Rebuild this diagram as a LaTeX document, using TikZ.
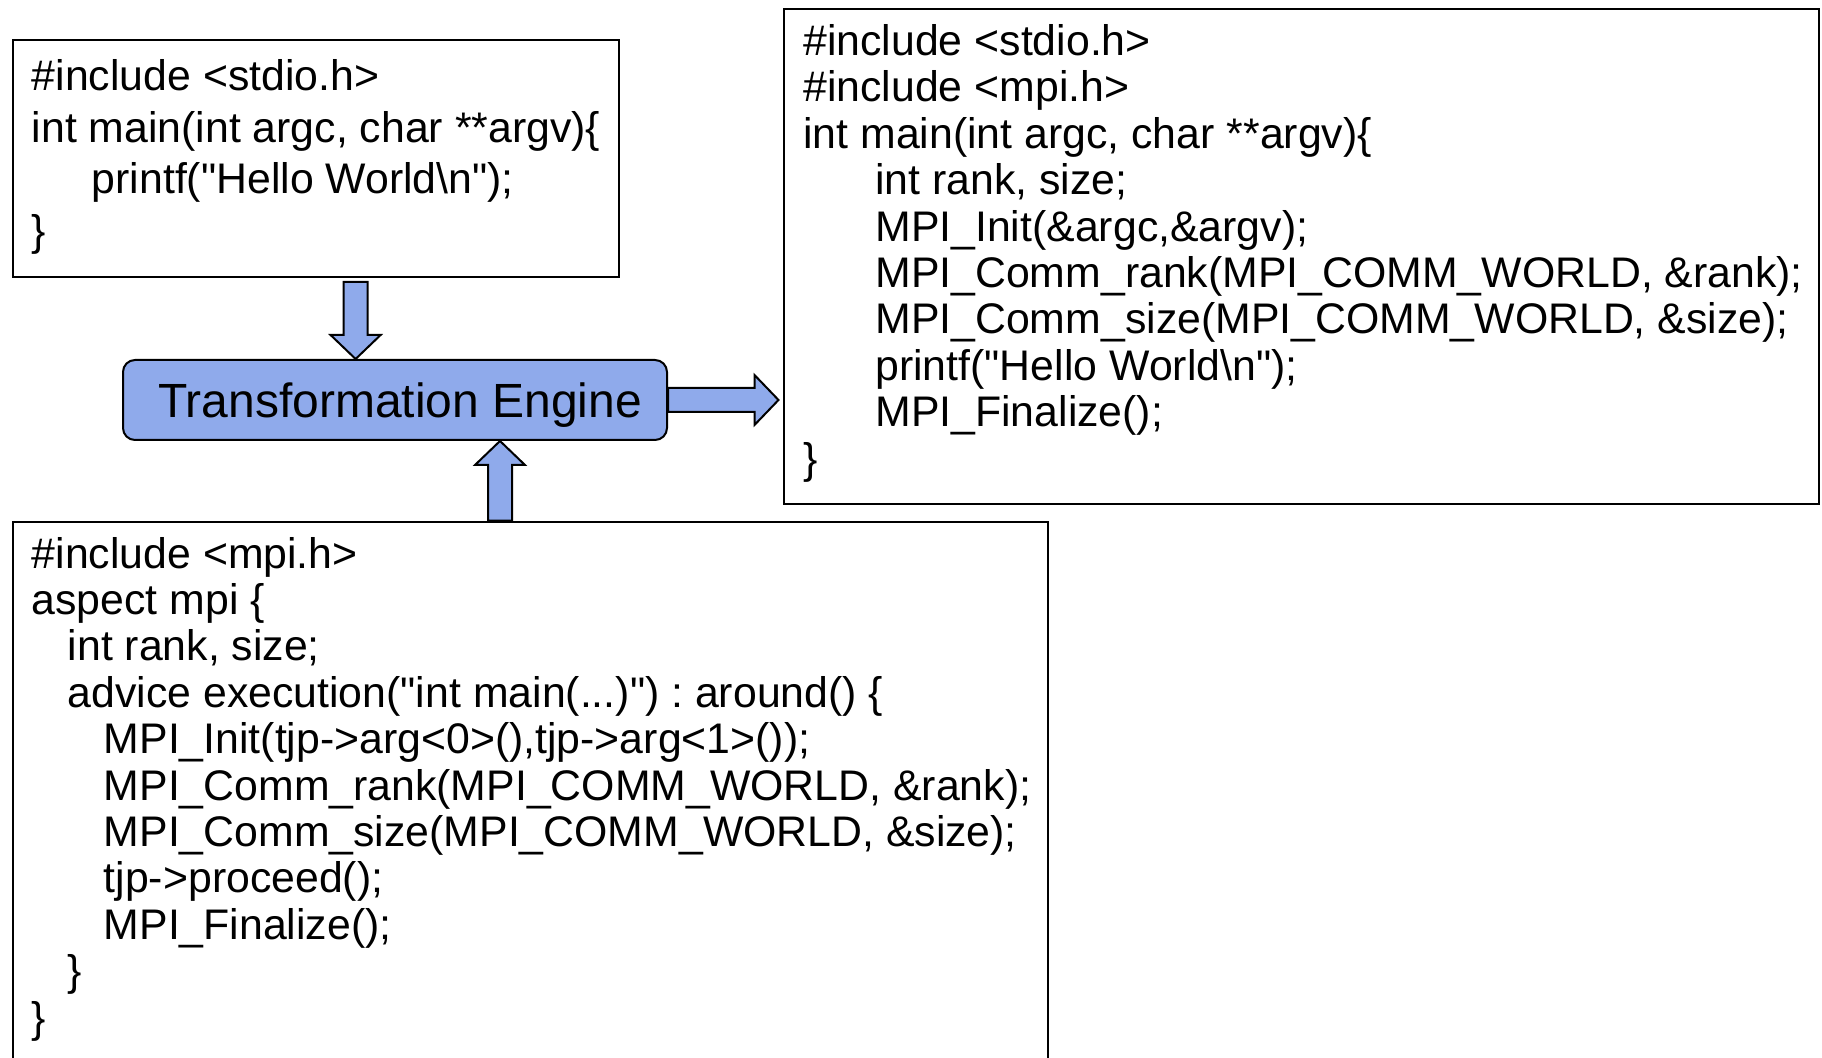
\documentclass[tikz,border=0pt]{standalone}
\usepackage{fontspec}
\setmainfont{Liberation Sans}
\usetikzlibrary{calc,positioning}
\definecolor{engblue}{RGB}{143,170,235}
\newcommand{\dq}{\textquotedbl}
\tikzset{
  codebox/.style={draw, line width=1pt, inner sep=0pt, anchor=north west},
  codetext/.style={anchor=north west, inner sep=0pt, align=left,
    font=\fontsize{21.4pt}{23.2pt}\selectfont\frenchspacing},
  engbox/.style={draw, line width=1pt, rounded corners=6pt, fill=engblue,
    minimum width=272pt, minimum height=40pt, inner sep=0pt, text depth=0pt,
    font=\fontsize{24pt}{28pt}\selectfont},
  blockarr/.style={draw, line width=1pt, fill=engblue, line join=miter},
}
% block arrow from #1 to #2 (shaft, head)
\newcommand{\blockarrow}[2]{%
  \path[blockarr] let \p1=(#1), \p2=(#2),
    \n1={atan2(\y2-\y1,\x2-\x1)}, \n2={veclen(\x2-\x1,\y2-\y1)} in
    [shift={(\p1)}, rotate=\n1]
    (0pt,-6pt) -- ({\n2-12pt},-6pt) -- ({\n2-12pt},-12.5pt)
    -- (\n2,0pt) -- ({\n2-12pt},12.5pt) -- ({\n2-12pt},6pt)
    -- (0pt,6pt) -- cycle;
}

\begin{document}
\begin{tikzpicture}[x=0.5pt, y=-0.5pt]
  \useasboundingbox (0,0) rectangle (1822,1058);
  \clip (0,0) rectangle (1822,1058);

  % Code boxes
  \node[codebox, minimum width=303.2pt, minimum height=118.5pt] (hello) at (11.6,39.5) {};
  \node[codebox, minimum width=517.5pt, minimum height=247.5pt] (hybrid) at (783,8) {};
  \node[codebox, minimum width=517.7pt, minimum height=277.2pt] (aspect) at (11.6,520.6) {};

  % Code texts
  \node[codetext, font=\fontsize{21.4pt}{25.85pt}\selectfont\frenchspacing] (hellotxt)
    at ($(hello.north west)+(19.8,19.4)$) {%
    \#include <stdio.h>\\
    int main(int argc, char **argv)\{\\
    \hspace*{30pt}printf(\dq Hello World\textbackslash n\dq);\\
    \}};
  \node[codetext] (hybridtxt) at ($(hybrid.north west)+(20,16)$) {%
    \#include <stdio.h>\\
    \#include <mpi.h>\\
    int main(int argc, char **argv)\{\\
    \hspace*{36pt}int rank, size;\\
    \hspace*{36pt}MPI\_Init(\&argc,\&argv);\\
    \hspace*{36pt}MPI\_Comm\_rank(MPI\_COMM\_WORLD, \&rank);\\
    \hspace*{36pt}MPI\_Comm\_size(MPI\_COMM\_WORLD, \&size);\\
    \hspace*{36pt}printf(\dq Hello World\textbackslash n\dq);\\
    \hspace*{36pt}MPI\_Finalize();\\
    \}};
  \node[codetext] (aspecttxt) at ($(aspect.north west)+(19.8,16)$) {%
    \#include <mpi.h>\\
    aspect mpi \{\\
    \hspace*{18pt}int rank, size;\\
    \hspace*{18pt}advice execution(\dq int main(...)\dq) : around() \{\\
    \hspace*{36pt}MPI\_Init(tjp->arg<0>(),tjp->arg<1>());\\
    \hspace*{36pt}MPI\_Comm\_rank(MPI\_COMM\_WORLD, \&rank);\\
    \hspace*{36pt}MPI\_Comm\_size(MPI\_COMM\_WORLD, \&size);\\
    \hspace*{36pt}tjp->proceed();\\
    \hspace*{36pt}MPI\_Finalize();\\
    \hspace*{18pt}\}\\
    \}};

  % Engine
  \node[engbox] (eng) at (395,400) {\hspace*{5pt}Transformation Engine};

  % Arrows
  \coordinate (inA) at ($(hello.south west)+(344,3.4)$);
  \coordinate (inB) at ($(aspect.north west)+(488.4,0)$);
  \coordinate (outC) at ($(eng.east -| hybrid.west)+(-4.5,0)$);
  \blockarrow{inA}{inA |- eng.north}
  \blockarrow{inB}{inB |- eng.south}
  \blockarrow{eng.east}{outC}
\end{tikzpicture}
\end{document}
